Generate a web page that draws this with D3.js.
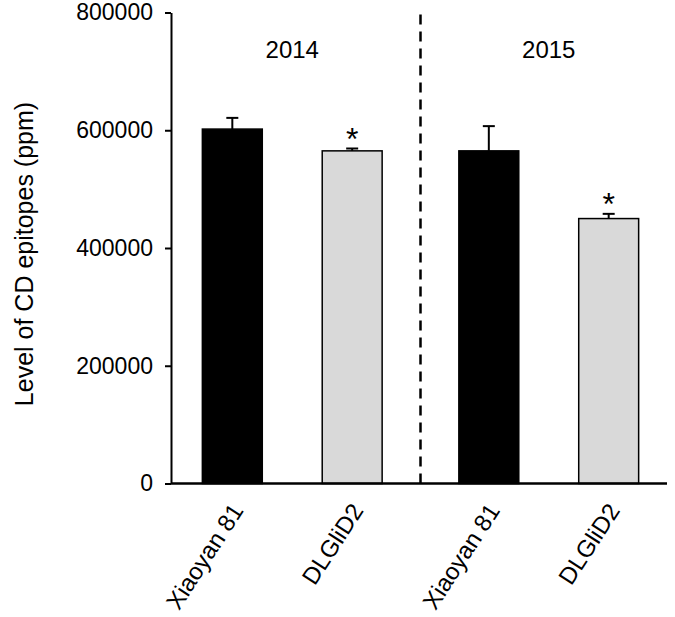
<!DOCTYPE html>
<html>
<head>
<meta charset="utf-8">
<script src="https://cdn.jsdelivr.net/npm/d3@7"></script>
<style>
  html, body { margin: 0; padding: 0; background: #fff; }
  text { font-family: "Liberation Sans", Arial, sans-serif; fill: #000; }
</style>
</head>
<body>
<svg id="chart" width="675" height="617"></svg>
<script>
// ---- data ----
const years = ["2014", "2015"];
const varieties = ["Xiaoyan 81", "DLGliD2"];
const means2014 = [602000, 565000];
const errors2014 = [19000, 4000];
const means2015 = [565000, 450000];
const errors2015 = [42000, 8000];
const significant2014 = [false, true];
const significant2015 = [false, true];
const yTicks = [0, 200000, 400000, 600000, 800000];
const yTitle = "Level of CD epitopes (ppm)";

const rows = [];
years.forEach((yr, i) => {
  const m = i === 0 ? means2014 : means2015;
  const e = i === 0 ? errors2014 : errors2015;
  const s = i === 0 ? significant2014 : significant2015;
  varieties.forEach((v, j) => rows.push({ year: yr, variety: v, mean: m[j], err: e[j], sig: s[j], idx: j }));
});

// ---- layout ----
const svg = d3.select("#chart");
const axisX = 171, axisRight = 667;
const yTop = 12.5, yBottom = 483.5;

const y = d3.scaleLinear().domain([0, 800000]).range([yBottom, yTop]);
const xOuter = d3.scaleBand().domain(years).range([164, 677]).paddingInner(0).paddingOuter(0);
const xInner = d3.scaleBand().domain(varieties).range([0, xOuter.bandwidth()]).paddingInner(0.5).paddingOuter(0.32);
const xc = d => xOuter(d.year) + xInner(d.variety);

// bars
svg.append("g").selectAll("rect").data(rows).join("rect")
  .attr("x", d => xc(d))
  .attr("y", d => y(d.mean))
  .attr("width", xInner.bandwidth())
  .attr("height", d => y(0) - y(d.mean))
  .attr("fill", d => d.idx === 0 ? "#000" : "#d9d9d9")
  .attr("stroke", "#000")
  .attr("stroke-width", 1.5);

// error bars
const eb = svg.append("g").attr("stroke", "#000").attr("stroke-width", 2);
rows.forEach(d => {
  const cx = xc(d) + xInner.bandwidth() / 2;
  eb.append("line").attr("x1", cx).attr("x2", cx).attr("y1", y(d.mean)).attr("y2", y(d.mean + d.err));
  eb.append("line").attr("x1", cx - 6).attr("x2", cx + 6).attr("y1", y(d.mean + d.err)).attr("y2", y(d.mean + d.err));
});

// asterisks
svg.append("g").selectAll("text").data(rows.filter(d => d.sig)).join("text")
  .attr("x", d => xc(d) + xInner.bandwidth() / 2)
  .attr("y", d => y(d.mean + d.err) + 1)
  .attr("text-anchor", "middle")
  .attr("font-size", 32)
  .text("*");

// dashed separator
svg.append("line")
  .attr("x1", xOuter("2015")).attr("x2", xOuter("2015"))
  .attr("y1", y(800000) + 2).attr("y2", y(0))
  .attr("stroke", "#000").attr("stroke-width", 2.5)
  .attr("stroke-dasharray", "10,7");

// year labels
svg.append("g").selectAll("text").data(years).join("text")
  .attr("x", d => xOuter(d) + xInner(varieties[0]) + (xInner(varieties[1]) - xInner(varieties[0]) + xInner.bandwidth()) / 2)
  .attr("y", 58)
  .attr("text-anchor", "middle")
  .attr("font-size", 24)
  .text(d => d);

// y axis
const yAxis = svg.append("g")
  .attr("transform", `translate(${axisX},0)`)
  .call(d3.axisLeft(y).tickValues(yTicks).tickFormat(d3.format("d")).tickSize(6).tickSizeOuter(0).tickPadding(12));
yAxis.select(".domain").attr("stroke-width", 2);
yAxis.selectAll(".tick line").attr("stroke-width", 2);
yAxis.selectAll(".tick text").attr("font-size", 23).attr("font-family", "Liberation Sans, Arial, sans-serif");

// x axis baseline
svg.append("line")
  .attr("x1", axisX).attr("x2", axisRight)
  .attr("y1", y(0)).attr("y2", y(0))
  .attr("stroke", "#000").attr("stroke-width", 2.5);

// x labels
svg.append("g").selectAll("text").data(rows).join("text")
  .attr("transform", d => `translate(${xc(d) + xInner.bandwidth() / 2 + 12},${y(0) + 27}) rotate(-57)`)
  .attr("text-anchor", "end")
  .attr("font-size", 24)
  .text(d => d.variety);

// y title
svg.append("text")
  .attr("transform", `translate(33,254) rotate(-90)`)
  .attr("text-anchor", "middle")
  .attr("font-size", 25)
  .text(yTitle);
</script>
</body>
</html>
